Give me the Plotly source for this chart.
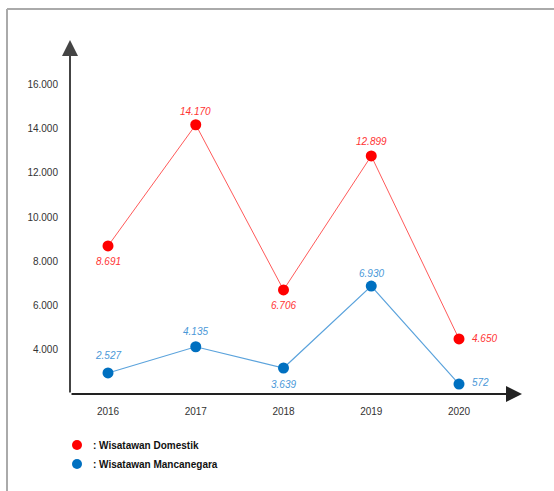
import plotly.graph_objects as go

# ---- data ----
years = [2016, 2017, 2018, 2019, 2020]
domestik_values = [8691, 14170, 6706, 12760, 4490]          # plotted positions
domestik_labels = ["8.691", "14.170", "6.706", "12.899", "4.650"]
mancanegara_values = [2950, 4135, 3175, 6880, 2450]          # plotted positions
mancanegara_labels = ["2.527", "4.135", "3.639", "6.930", "572"]
y_ticks = [4000, 6000, 8000, 10000, 12000, 14000, 16000]
y_tick_labels = ["4.000", "6.000", "8.000", "10.000", "12.000", "14.000", "16.000"]
series_names = [": Wisatawan Domestik", ": Wisatawan Mancanegara"]

# ---- geometry (pixels) ----
W, H = 554, 491
L, R, T, B = 70, 522, 40, 394
X0, X1 = 2015.567, 2020.718
Y0, Y1 = 2000, 18000

def px(xp):
    return (xp - L) / (R - L)

def py(yp):
    return (B - yp) / (B - T)

FONT = "Liberation Sans, Arial, sans-serif"
RED = "#ff0000"
BLUE = "#0070c0"

fig = go.Figure()

fig.add_trace(go.Scatter(
    x=years, y=domestik_values, mode="lines+markers",
    line=dict(color="#ff5a5a", width=1),
    marker=dict(color=RED, size=11),
    showlegend=False, hoverinfo="skip", cliponaxis=False,
))
fig.add_trace(go.Scatter(
    x=years, y=mancanegara_values, mode="lines+markers",
    line=dict(color="#5ba3dc", width=1.2),
    marker=dict(color=BLUE, size=11),
    showlegend=False, hoverinfo="skip", cliponaxis=False,
))

# value labels (placement per point: 'b' below, 't' above, 'r' right)
red_place = ["b", "t", "b", "t", "r"]
blue_place = ["t", "t", "b", "t", "r"]
red_shift = [16, -13, 16, -14, 0]
blue_shift = [-17, -15, 16, -13, -2]

def add_labels(xs, ys, labels, places, shifts, color):
    for x, y, lab, p, s in zip(xs, ys, labels, places, shifts):
        if p == "r":
            fig.add_annotation(x=x, y=y, xref="x", yref="y", text=lab, showarrow=False,
                               xanchor="left", yanchor="middle", xshift=11, yshift=-s,
                               font=dict(family=FONT, size=10, color=color, style="italic"))
        else:
            fig.add_annotation(x=x, y=y, xref="x", yref="y", text=lab, showarrow=False,
                               xanchor="center", yanchor="middle", yshift=-s,
                               font=dict(family=FONT, size=10, color=color, style="italic"))

add_labels(years, domestik_values, domestik_labels, red_place, red_shift, "#ff3333")
add_labels(years, mancanegara_values, mancanegara_labels, blue_place, blue_shift, "#4a98d8")

# axes with arrows
fig.add_annotation(x=X0, y=Y1, ax=X0, ay=Y0, xref="x", yref="y", axref="x", ayref="y",
                   text="", showarrow=True, arrowhead=2, arrowsize=1.6, arrowwidth=2,
                   arrowcolor="#444444")
fig.add_annotation(x=X1, y=Y0, ax=X0, ay=Y0, xref="x", yref="y", axref="x", ayref="y",
                   text="", showarrow=True, arrowhead=2, arrowsize=1.6, arrowwidth=2,
                   arrowcolor="#222222")

# outer border (top and left only visible)
fig.add_shape(type="line", xref="paper", yref="paper",
              x0=px(7), y0=py(9), x1=px(560), y1=py(9),
              line=dict(color="#aaaaaa", width=2))
fig.add_shape(type="line", xref="paper", yref="paper",
              x0=px(7), y0=py(9), x1=px(7), y1=py(500),
              line=dict(color="#aaaaaa", width=2))

# legend
legend_colors = [RED, BLUE]
legend_y = [445, 464]
for name, col, ly in zip(series_names, legend_colors, legend_y):
    fig.add_shape(type="circle", xref="paper", yref="paper",
                  x0=px(72), x1=px(82), y0=py(ly + 5), y1=py(ly - 5),
                  fillcolor=col, line=dict(color=col, width=0))
    fig.add_annotation(x=px(91), y=py(ly), xref="paper", yref="paper",
                       text="<b>" + name + "</b>", showarrow=False,
                       xanchor="left", yanchor="middle",
                       font=dict(family=FONT, size=10, color="#111111"))

fig.update_layout(
    width=W, height=H,
    margin=dict(l=L, r=W - R, t=T, b=H - B),
    paper_bgcolor="white", plot_bgcolor="white",
    xaxis=dict(range=[X0, X1], tickvals=years, ticktext=[str(y) for y in years],
               showgrid=False, zeroline=False, showline=False,
               ticks="", ticklabelstandoff=10,
               tickfont=dict(family=FONT, size=10, color="#333333")),
    yaxis=dict(range=[Y0, Y1], tickvals=y_ticks, ticktext=y_tick_labels,
               showgrid=False, zeroline=False, showline=False,
               ticks="", ticklabelstandoff=11,
               tickfont=dict(family=FONT, size=10, color="#333333")),
)

fig.write_html("out.html")
